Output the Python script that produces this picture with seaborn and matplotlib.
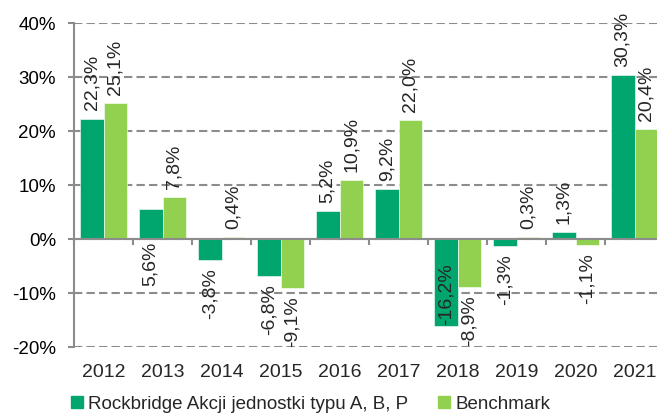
import numpy as np
import pandas as pd
import seaborn as sns
import matplotlib.pyplot as plt
from matplotlib.lines import Line2D
from matplotlib.ticker import FuncFormatter

# Data
years = ["2012", "2013", "2014", "2015", "2016", "2017", "2018", "2019", "2020", "2021"]
fund = [22.3, 5.6, -3.8, -6.8, 5.2, 9.2, -16.2, -1.3, 1.3, 30.3]
bench = [25.1, 7.8, 0.4, -9.1, 10.9, 22.0, -8.9, 0.3, -1.1, 20.4]
series_names = ["Rockbridge Akcji jednostki typu A, B, P", "Benchmark"]
colors = ["#00A66E", "#92D050"]

# labels that the original puts in a different spot
label_below_zero = {(0, 1)}   # fund 2013
label_inside = {(0, 6)}       # fund 2018

df = pd.DataFrame({
    "year": years * 2,
    "value": fund + bench,
    "series": [series_names[0]] * len(years) + [series_names[1]] * len(years),
})

sns.set_style("white")
plt.rcParams["font.family"] = ["Liberation Sans", "DejaVu Sans"]
grey = "#8c8c8c"

fig = plt.figure(figsize=(6.57, 4.16), dpi=100)
ax = fig.add_axes([74 / 657, 1 - 347 / 416, 590 / 657, 324 / 416])

sns.barplot(data=df, x="year", y="value", hue="series", palette=colors,
            saturation=1, width=0.8, ax=ax, legend=False,
            edgecolor="white", linewidth=0.4)

ax.set_xlim(-0.5, 9.5)
ax.set_ylim(-20, 40)
ax.set_yticks(range(-20, 41, 10))
ax.yaxis.set_major_formatter(FuncFormatter(lambda v, p: f"{v:.0f}%"))
ax.yaxis.grid(True, linestyle=(0, (4, 2)), color=grey, linewidth=1.5)
ax.set_axisbelow(True)
ax.set_xlabel("")
ax.set_ylabel("")

# axis lines
for s in ["top", "right"]:
    ax.spines[s].set_visible(False)
ax.spines["left"].set_color(grey)
ax.spines["left"].set_linewidth(1.5)
ax.spines["bottom"].set_position(("data", 0))
ax.spines["bottom"].set_color(grey)
ax.spines["bottom"].set_linewidth(1.5)
ax.spines["bottom"].set_zorder(3)
ax.tick_params(axis="y", left=True, length=4, width=1.5, color=grey,
               labelsize=13.5, pad=9, labelcolor="black")
ax.set_xticks(np.arange(-0.5, 10, 1), minor=True)
ax.tick_params(axis="x", which="major", length=0, labelbottom=False)
ax.tick_params(axis="x", which="minor", bottom=True, length=4, width=1.5,
               color=grey, direction="out")

# year labels along the bottom of the plot area
sec = ax.secondary_xaxis("bottom")
sec.set_xticks(range(len(years)), years)
sec.tick_params(length=0, labelsize=14, pad=12)
sec.spines["bottom"].set_visible(False)

# data labels
for si, (cont, vals) in enumerate(zip(ax.containers, [fund, bench])):
    for i, (bar, v) in enumerate(zip(cont, vals)):
        x = bar.get_x() + bar.get_width() / 2
        txt = f"{v:.1f}%".replace(".", ",")
        if (si, i) in label_below_zero:
            pos, off, va = (x, 0), -2, "top"
        elif (si, i) in label_inside:
            pos, off, va = (x, v), 1, "bottom"
        elif v >= 0:
            pos, off, va = (x, v), 6, "bottom"
        else:
            pos, off, va = (x, v), -6, "top"
        ax.annotate(txt, pos, xytext=(0, off), textcoords="offset points",
                    rotation=90, ha="center", va=va, fontsize=14)

handles = [Line2D([], [], marker="s", linestyle="", markersize=8, color=c)
           for c in colors]
fig.legend(handles, series_names, loc="center", bbox_to_anchor=(0.473, 1 - 404 / 416),
           ncol=2, frameon=False, fontsize=13.5, handlelength=0.6,
           handletextpad=0.3, columnspacing=1.6, borderpad=0, borderaxespad=0)

fig.savefig("out.png", dpi=100)
